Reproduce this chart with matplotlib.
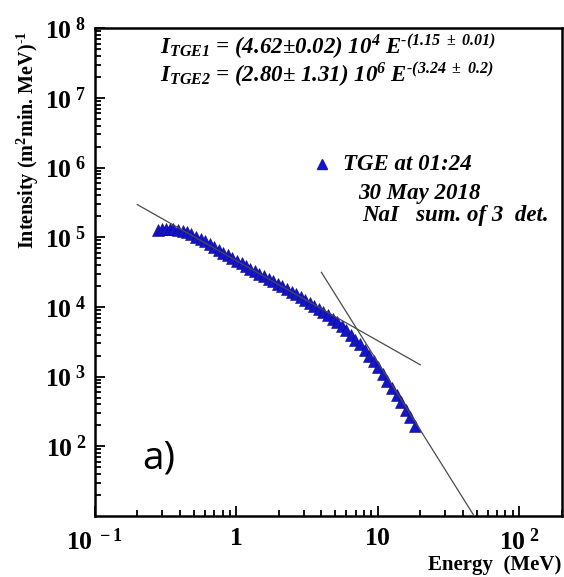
import numpy as np
import matplotlib
matplotlib.use('Agg')
import matplotlib.pyplot as plt

plt.rcParams['font.family'] = 'Liberation Serif'
plt.rcParams['mathtext.fontset'] = 'custom'
plt.rcParams['mathtext.rm'] = 'Liberation Serif:bold:italic'
plt.rcParams['mathtext.it'] = 'Liberation Serif:bold:italic'
plt.rcParams['mathtext.bf'] = 'Liberation Serif:bold'

# TGE spectrum, 30 May 2018, 01:24
energy = [0.28, 0.30, 0.32, 0.34, 0.36, 0.39, 0.42, 0.45, 0.48, 0.52,
          0.56, 0.60, 0.65, 0.70, 0.75, 0.81, 0.87, 0.94, 1.01, 1.09,
          1.17, 1.26, 1.36, 1.46, 1.58, 1.70, 1.83, 1.97, 2.12, 2.28,
          2.46, 2.65, 2.85, 3.07, 3.31, 3.56, 3.84, 4.13, 4.45, 4.80,
          5.17, 5.57, 6.00, 6.46, 6.96, 7.50, 8.08, 8.70, 9.37, 10.1,
          10.9, 11.7, 12.6, 13.6, 14.6, 15.8, 17.0, 18.3]
intensity = [1.25e5, 1.30e5, 1.32e5, 1.33e5, 1.32e5, 1.29e5, 1.24e5, 1.17e5, 1.10e5, 1.02e5,
             9.4e4, 8.7e4, 7.9e4, 7.2e4, 6.6e4, 6.0e4, 5.5e4, 5.0e4, 4.6e4, 4.2e4,
             3.9e4, 3.55e4, 3.25e4, 3.0e4, 2.75e4, 2.55e4, 2.35e4, 2.15e4, 1.98e4, 1.82e4,
             1.66e4, 1.52e4, 1.39e4, 1.27e4, 1.15e4, 1.04e4, 9.4e3, 8.5e3, 7.6e3, 6.8e3,
             6.0e3, 5.3e3, 4.6e3, 4.0e3, 3.4e3, 2.9e3, 2.4e3, 2.0e3, 1.65e3, 1.35e3,
             1080, 860, 690, 540, 430, 330, 260, 195]

# power law fits
fit1_amp, fit1_idx, fit1_range = 4.62e4, 1.15, (0.2, 20)
fit2_amp, fit2_idx, fit2_range = 2.80e6, 3.24, (4, 60)

xticks = [0.1, 1, 10, 100]
xticklabels = [r'$\mathbf{10^{\ -1}}$', r'$\mathbf{1}$', r'$\mathbf{10}$', r'$\mathbf{10^{\ 2}}$']
yticks = [1e2, 1e3, 1e4, 1e5, 1e6, 1e7, 1e8]
yticklabels = [r'$\mathbf{10^{\ %d}}$' % k for k in range(2, 9)]

fig = plt.figure(figsize=(5.64, 5.77), dpi=100)
ax = fig.add_axes([0.168, 0.106, 0.828, 0.845])

for amp, idx, rng in [(fit1_amp, fit1_idx, fit1_range), (fit2_amp, fit2_idx, fit2_range)]:
    e = np.logspace(np.log10(rng[0]), np.log10(rng[1]), 50)
    ax.plot(e, amp * e ** (-idx), color='#4a4a4a', lw=0.9, zorder=3)

ax.plot(energy, intensity, ls='none', marker='^', ms=8.5, color='#1414c8',
        markeredgecolor='#0a0a80', markeredgewidth=0.4, zorder=2)

ax.set_xscale('log')
ax.set_yscale('log')
ax.set_xlim(0.1, 200)
ax.set_ylim(10, 1e8)
ax.set_xticks(xticks, xticklabels, fontsize=18.5)
ax.set_yticks(yticks, yticklabels, fontsize=18.5)
ax.tick_params(which='both', direction='in', top=False, right=False, width=1.3)
ax.tick_params(axis='y', which='major', length=7, pad=6)
ax.tick_params(axis='x', which='major', length=7, pad=9)
ax.tick_params(which='minor', length=4)
for sp in ax.spines.values():
    sp.set_linewidth(1.8)

fig.text(0.05, 1 - 140 / 577, 'Intensity (m$^{\\mathbf{2}}$min. MeV)$^{\\mathbf{\u2010 1}}$',
         rotation=90, ha='center', va='center', fontsize=14.5, fontweight='bold')
fig.text(0.995, 1 - 565 / 577, 'Energy  (MeV)', ha='right', va='center',
         fontsize=15, fontweight='bold')

eq_kw = dict(fontsize=16.5, fontweight='bold', style='italic')
fig.text(160 / 564, 1 - 47 / 577,
         'I$_{TGE1}$ = (4.62$\\pm$0.02) 10$^4$ E$^{\u2010(1.15\\ \\pm\\ 0.01)}$', va='center', **eq_kw)
fig.text(160 / 564, 1 - 75 / 577,
         'I$_{TGE2}$ = (2.80$\\pm$ 1.31) 10$^6$ E$^{\u2010(3.24\\ \\pm\\ 0.2)}$', va='center', **eq_kw)

ax.plot([322 / 564], [1 - 164 / 577], transform=fig.transFigure, marker='^', ms=7,
        color='#1414c8', clip_on=False)
fig.text(343 / 564, 1 - 165 / 577, 'TGE at 01:24', va='center', **eq_kw)
fig.text(358 / 564, 1 - 193 / 577, '30 May 2018', va='center', **eq_kw)
fig.text(362 / 564, 1 - 215 / 577, 'NaI   sum. of 3  det.', va='center', **eq_kw)

fig.text(142 / 564, 1 - 459 / 577, 'a)', fontsize=28, family='Open Sans', va='center')

fig.savefig('out.png', dpi=100)
